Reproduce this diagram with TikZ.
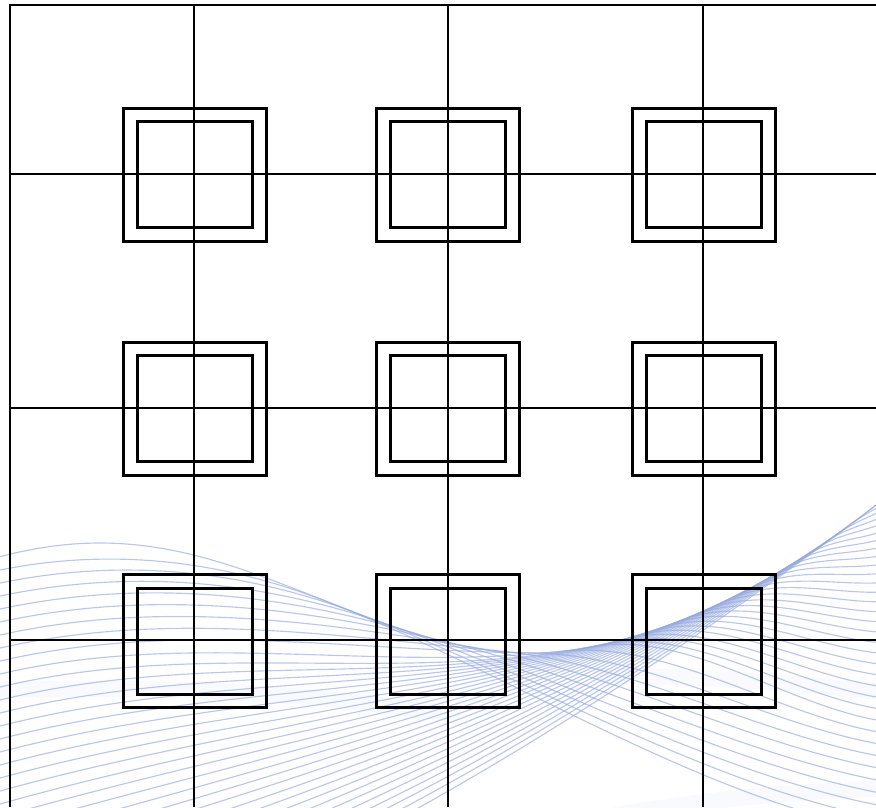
\documentclass[tikz,border=0pt]{standalone}
\definecolor{wave}{RGB}{150,170,222}
\begin{document}
\begin{tikzpicture}[x=1pt,y=-1pt,
  declare function={
    Cl(\x)=598-55*cos(0.412844*(\x-100));
    uu(\x)=max((\x-536)/340,0);
    Cr(\x)=653-148*(0.6*uu(\x)*uu(\x)+0.4*uu(\x)*sqrt(uu(\x)));
    Cf(\x)=Cl(min(\x,536))+Cr(\x)-653;
    Dl(\x)=0.3963*sin(0.412844*(\x-100));
    Dr(\x)=-0.435294*(1.2*uu(\x)+0.6*sqrt(uu(\x)));
    Df(\x)=Dl(min(\x,536))+Dr(\x);
    hA(\t)=2*\t*\t*\t-3*\t*\t+1;
    hB(\t)=\t*\t*\t-2*\t*\t+\t;
    hC(\t)=-2*\t*\t*\t+3*\t*\t;
    hD(\t)=\t*\t*\t-\t*\t;
    herm(\t,\a,\p,\b,\q)=hA(\t)*\a+hB(\t)*\p+hC(\t)*\b+hD(\t)*\q;
  },
  waveline/.style={draw=wave,line width=1.15pt,opacity=0.65},
  haze/.style={draw=wave,line width=16pt,opacity=0.06},
  gridline/.style={draw=black,line width=1.3pt},
  frameline/.style={draw=black,line width=2.6pt},
  outerbox/.style={draw=black,line width=3pt,minimum width=143pt,minimum height=133pt,inner sep=0pt,outer sep=0pt},
  innerbox/.style={draw=black,line width=3pt,minimum width=115pt,minimum height=106pt,inner sep=0pt,outer sep=0pt}]
\useasboundingbox (0,0) rectangle (876,807);
\fill[white] (0,0) rectangle (876,807);
% decorative wave lines
\begin{scope}
  \clip (0,0) rectangle (876,807);
  \draw[haze] (-20,690) .. controls (150,686) and (300,690) .. (460,716);
  \draw[haze] (600,676) .. controls (720,676) and (800,684) .. (900,694);
  \draw[haze] (540,830) .. controls (680,800) and (780,792) .. (900,788);
  \draw[waveline] plot[domain=0:876,samples=120] (\x,{Cf(\x)});
  \foreach \k in {1,...,34}{
    \pgfmathsetmacro\yl{557+13*\k}
    \pgfmathsetmacro\xj{\k<11 ? 330+(\k-1)*28.9 : 600+(\k-11)*11.3}
    \pgfmathsetmacro\sl{-0.2-0.15*(\k-1)/33}
    \pgfmathsetmacro\yr{505+325*pow((34-\k)/33+0.0001,1.3)}
    \pgfmathsetmacro\mr{0.2-0.8*pow((\k-1)/33,3)}
    \pgfmathsetmacro\Cx{Cf(\xj)}
    \pgfmathsetmacro\Dx{Df(\xj)}
    \pgfmathsetmacro\Ls{\xj*(\sl)}
    \pgfmathsetmacro\Ld{\xj*(\Dx)}
    \pgfmathsetmacro\Rd{(876-\xj)*(\Dx)}
    \pgfmathsetmacro\Rm{(876-\xj)*(\mr)}
    \draw[waveline]
      plot[domain=0:\xj,samples=45] (\x,{max(herm(\x/\xj,\yl,\Ls,\Cx,\Ld),Cf(\x))})
      -- plot[domain=\xj:876,samples=45] (\x,{max(herm((\x-\xj)/(876-\xj),\Cx,\Rd,\yr,\Rm),Cf(\x))});
  }
\end{scope}
% grid lines
\foreach \c/\xx in {1/194,2/448,3/703}{
  \coordinate (vt\c) at (\xx,5);
  \coordinate (vb\c) at (\xx,807);
  \draw[gridline] (vt\c) -- (vb\c);
}
\foreach \r/\yy in {1/174,2/408,3/640}{
  \coordinate (hl\r) at (10,\yy);
  \coordinate (hr\r) at (876,\yy);
  \draw[gridline] (hl\r) -- (hr\r);
}
% frame
\coordinate (tl) at (10,5);
\coordinate (tr) at (876,5);
\coordinate (bl) at (10,807);
\draw[frameline] (bl) -- (tl) -- (tr);
% double squares
\foreach \c/\xx in {1/194.5,2/448,3/703.5}{
  \foreach \r/\yy in {1/174.5,2/408.5,3/641}{
    \node[outerbox] (o\r\c) at (\xx,\yy) {};
    \node[innerbox] (i\r\c) at (\xx,\yy) {};
  }
}
\end{tikzpicture}
\end{document}
